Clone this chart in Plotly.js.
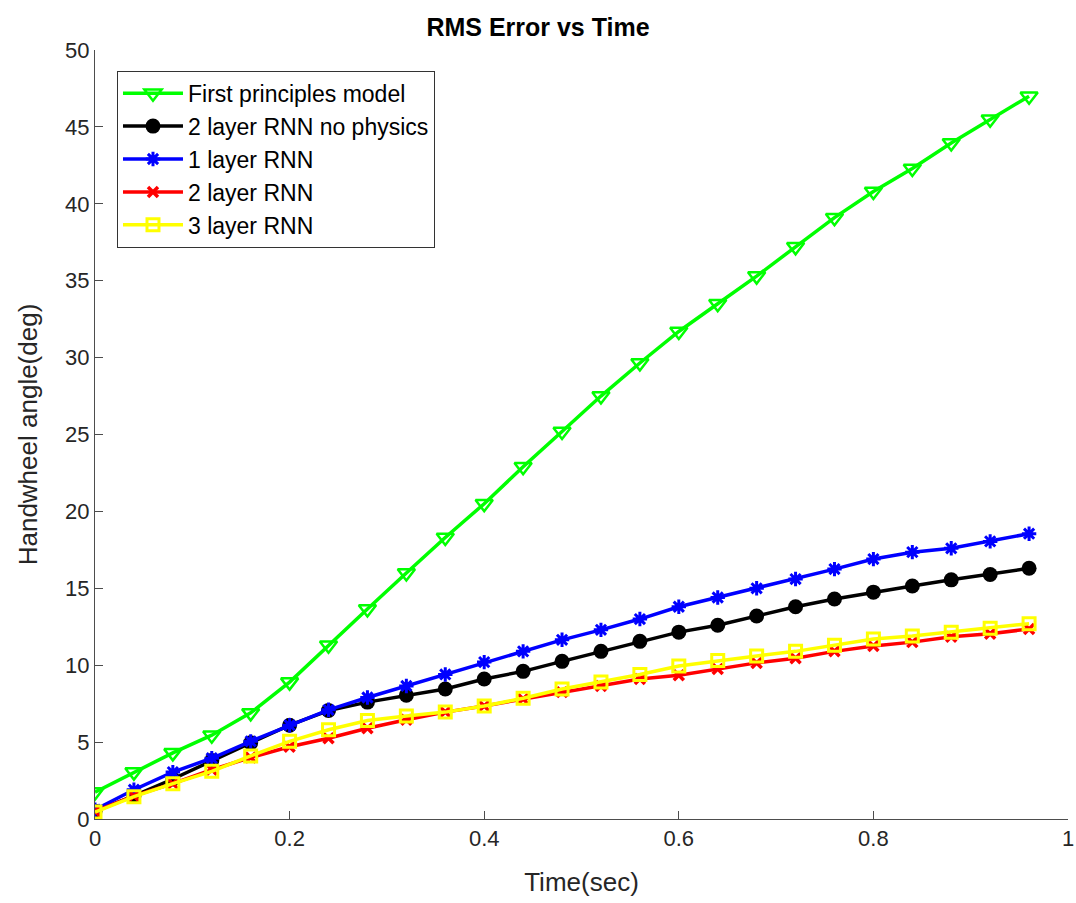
<!DOCTYPE html>
<html>
<head>
<meta charset="utf-8">
<script src="https://cdn.plot.ly/plotly-3.0.1.min.js"></script>
<style>html,body{margin:0;padding:0;background:#fff;}#chart{width:1076px;height:903px;}</style>
</head>
<body>
<div id="chart"></div>
<script>
const time = [0,0.04,0.08,0.12,0.16,0.2,0.24,0.28,0.32,0.36,0.4,0.44,0.48,0.52,0.56,0.6,0.64,0.68,0.72,0.76,0.8,0.84,0.88,0.92,0.96];
const firstPrinciples = [1.75,3.05,4.3,5.45,6.9,8.9,11.3,13.65,16.0,18.3,20.5,22.9,25.2,27.5,29.65,31.7,33.5,35.3,37.2,39.1,40.8,42.3,43.95,45.5,47.0];
const rnn2NoPhysics = [0.5,1.5,2.6,3.8,4.95,6.1,7.05,7.6,8.05,8.45,9.1,9.6,10.25,10.9,11.55,12.15,12.6,13.2,13.8,14.3,14.75,15.15,15.55,15.9,16.3];
const rnn1 = [0.6,1.9,3.05,3.95,5.05,6.1,7.1,7.9,8.65,9.4,10.2,10.9,11.65,12.3,13.0,13.8,14.4,15.0,15.6,16.25,16.9,17.35,17.6,18.05,18.55];
const rnn2 = [0.5,1.5,2.3,3.2,4.0,4.7,5.25,5.9,6.45,6.95,7.35,7.8,8.25,8.65,9.1,9.35,9.75,10.15,10.45,10.9,11.25,11.5,11.85,12.05,12.35];
const rnn3 = [0.45,1.45,2.3,3.1,4.1,5.05,5.8,6.4,6.7,6.95,7.35,7.85,8.45,8.9,9.4,9.95,10.3,10.6,10.9,11.3,11.7,11.9,12.15,12.4,12.7];
const seriesNames = ["First principles model","2 layer RNN no physics","1 layer RNN","2 layer RNN","3 layer RNN"];
const xTicks = [0,0.2,0.4,0.6,0.8,1];
const xTickText = ["0","0.2","0.4","0.6","0.8","1"];
const yTicks = [0,5,10,15,20,25,30,35,40,45,50];

const traces = [
  {x: time, y: firstPrinciples, name: seriesNames[0], mode: 'lines+markers',
   line: {color: '#00ff00', width: 3.5},
   marker: {symbol: 'triangle-down-open', size: 15, color: '#00ff00', line: {width: 2.5, color: '#00ff00'}}},
  {x: time, y: rnn2NoPhysics, name: seriesNames[1], mode: 'lines+markers',
   line: {color: '#000000', width: 3.5},
   marker: {symbol: 'circle', size: 15, color: '#000000'}},
  {x: time, y: rnn1, name: seriesNames[2], mode: 'lines+markers',
   line: {color: '#0000ff', width: 3.5},
   marker: {symbol: 'asterisk-open', size: 12, color: '#0000ff', line: {width: 3, color: '#0000ff'}}},
  {x: time, y: rnn2, name: seriesNames[3], mode: 'lines+markers',
   line: {color: '#ff0000', width: 3.5},
   marker: {symbol: 'x-thin-open', size: 10, color: '#ff0000', line: {width: 3.5, color: '#ff0000'}}},
  {x: time, y: rnn3, name: seriesNames[4], mode: 'lines+markers',
   line: {color: '#ffff00', width: 3.5},
   marker: {symbol: 'square-open', size: 12, color: '#ffff00', line: {width: 3, color: '#ffff00'}}}
];

const axisColor = '#4d4d4d';
const layout = {
  width: 1076, height: 903,
  paper_bgcolor: '#ffffff', plot_bgcolor: '#ffffff',
  margin: {l: 95, r: 8, t: 50, b: 84},
  font: {family: 'Liberation Sans, Arial, sans-serif', color: '#262626'},
  title: {text: '<b>RMS Error vs Time</b>', font: {size: 25, color: '#000000'}, x: 0.5, xanchor: 'center', y: 0.97, yanchor: 'middle'},
  xaxis: {
    range: [0, 1], tickvals: xTicks, ticktext: xTickText,
    ticks: 'inside', ticklen: 8, tickcolor: axisColor, tickwidth: 1,
    showline: true, linecolor: axisColor, linewidth: 1, mirror: false,
    showgrid: false, zeroline: false,
    tickfont: {size: 22, color: '#262626'},
    title: {text: 'Time(sec)', font: {size: 26, color: '#262626'}, standoff: 22}
  },
  yaxis: {
    range: [0, 50], tickvals: yTicks,
    ticks: 'inside', ticklen: 8, tickcolor: axisColor, tickwidth: 1,
    showline: true, linecolor: axisColor, linewidth: 1, mirror: false,
    showgrid: false, zeroline: false,
    tickfont: {size: 22, color: '#262626'},
    title: {text: 'Handwheel angle(deg)', font: {size: 26, color: '#262626'}, standoff: 20}
  },
  showlegend: true,
  legend: {
    x: 0.0226, y: 0.973, xanchor: 'left', yanchor: 'top',
    bgcolor: '#ffffff', bordercolor: '#333333', borderwidth: 1,
    font: {size: 23, color: '#000000'},
    itemwidth: 60, tracegroupgap: 0
  }
};

Plotly.newPlot('chart', traces, layout, {displayModeBar: false, staticPlot: true});
</script>
</body>
</html>
